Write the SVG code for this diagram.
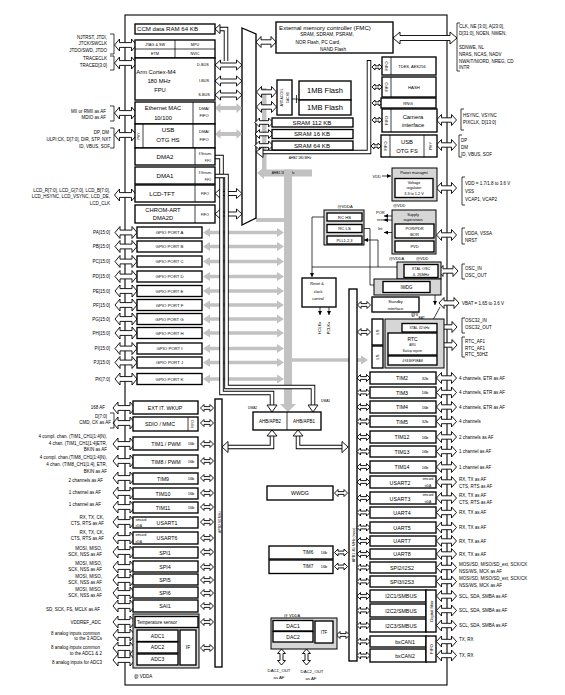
<svg xmlns="http://www.w3.org/2000/svg" width="565" height="695" viewBox="0 0 565 695">
<defs>
<style>
text{font-family:"Liberation Sans",Arial,Helvetica,sans-serif;fill:#000}
.c{text-anchor:middle}
.e{text-anchor:end}
.bx{fill:#fff;stroke:#000;stroke-width:1.35}
.gb{fill:#d6d6d6;stroke:#000;stroke-width:1}
.ln{fill:none;stroke:#000;stroke-width:0.75}
.ar{fill:#fff;stroke:#000;stroke-width:0.9}
.ga{fill:#c2c2c2;stroke:none}
.hk{fill:none;stroke:#000;stroke-width:4.5}
.hw{fill:none;stroke:#fff;stroke-width:2.7}
.f28{font-size:2.8px}.f33{font-size:3.3px}.f35{font-size:3.5px}.f38{font-size:3.8px}.f4{font-size:4px}.f43{font-size:4.3px}.f45{font-size:4.5px}.f47{font-size:4.7px}.f5{font-size:5px}.f53{font-size:5.3px}.f58{font-size:5.8px}.f6{font-size:6.1px}.f75{font-size:7.5px}
</style>
<marker id="m" viewBox="0 0 6 6" markerWidth="4" markerHeight="4" refX="6" refY="3" orient="auto" markerUnits="userSpaceOnUse"><path d="M0,0 L6,3 L0,6Z" fill="#000"/></marker>
<path id="a22" class="ar" d="M-11,0 L-6,-6 L-6,-2.4 L6,-2.4 L6,-6 L11,0 L6,6 L6,2.4 L-6,2.4 L-6,6Z"/>
<path id="a20" class="ar" d="M-10,0 L-5,-5.5 L-5,-2.2 L5,-2.2 L5,-5.5 L10,0 L5,5.5 L5,2.2 L-5,2.2 L-5,5.5Z"/>
<path id="a27" class="ar" d="M-13.5,0 L-8,-5 L-8,-2 L8,-2 L8,-5 L13.5,0 L8,5 L8,2 L-8,2 L-8,5Z"/>
<path id="a18" class="ar" d="M-9,0 L-4.5,-4.5 L-4.5,-1.8 L4.5,-1.8 L4.5,-4.5 L9,0 L4.5,4.5 L4.5,1.8 L-4.5,1.8 L-4.5,4.5Z"/>
<path id="a13" class="ar" d="M-6.5,0 L-3,-3.5 L-3,-1.4 L3,-1.4 L3,-3.5 L6.5,0 L3,3.5 L3,1.4 L-3,1.4 L-3,3.5Z"/>
<path id="a10" class="ar" d="M-5,0 L-2,-3 L-2,-1.2 L2,-1.2 L2,-3 L5,0 L2,3 L2,1.2 L-2,1.2 L-2,3Z"/>
<path id="v16" class="ar" d="M0,-8 L-4,-3.5 L-1.5,-3.5 L-1.5,3.5 L-4,3.5 L0,8 L4,3.5 L1.5,3.5 L1.5,-3.5 L4,-3.5Z"/>
<path id="g81" class="ga" d="M0,0 L7,-4.5 L7,-1.8 L74,-1.8 L74,-4.5 L81,0 L74,4.5 L74,1.8 L7,1.8 L7,4.5Z"/>
<path id="g27" class="ga" d="M-13.5,0 L-8,-5 L-8,-2 L8,-2 L8,-5 L13.5,0 L8,5 L8,2 L-8,2 L-8,5Z"/>
</defs>
<rect width="565" height="695" fill="#fff"/>

<!-- frame -->
<rect id="frame" x="125" y="15" width="322" height="670" fill="none" stroke="#000" stroke-width="1.1"/>

<!-- gray AHB1 buses -->
<g id="ahb1-bus">
<rect class="ga" x="262" y="88" width="4.5" height="82"/>
<rect class="ga" x="256" y="218" width="30" height="4"/>
<path class="ga" d="M257,173 L264,167 L264,169.5 L312,169.5 L312,176.5 L264,176.5 L264,179Z"/>
<text class="c f33" x="283" y="174.3">AHB1 180 MHz</text>
<rect class="ga" x="284" y="169.5" width="8" height="235"/>
<path class="ga" d="M280,404 L296,404 L288,412Z"/>
<path class="ga" d="M292,358.2 H361 V355.5 L368,360 L361,364.5 V361.8 H292Z"/>
</g>

<!-- buses (nodes) -->
<g id="bus-matrix"><polygon points="242,28 256,34 256,218 242,225" fill="#fff" stroke="#000" stroke-width="1.35"/></g>
<g id="apb2-bus"><rect class="bx" x="215" y="399" width="7" height="268"/><text class="c f35" transform="translate(219.5,522) rotate(-90)" y="1.2">APB2 90 MHz</text></g>
<g id="apb1-bus"><rect class="bx" x="349" y="289" width="8" height="372"/><text class="c f38" transform="translate(354,545) rotate(-90)" y="1.3">APB1 45 MHz (max)</text></g>

<g id="connectors">
<use href="#g81" x="203" y="232.5"/><use href="#g81" x="203" y="246.5"/><use href="#g81" x="203" y="261.5"/><use href="#g81" x="203" y="276.5"/><use href="#g81" x="203" y="291"/><use href="#g81" x="203" y="305"/><use href="#g81" x="203" y="319"/><use href="#g81" x="203" y="333"/><use href="#g81" x="203" y="348.5"/><use href="#g81" x="203" y="362.5"/><use href="#g81" x="203" y="379"/>
<use href="#g27" x="228.5" y="108"/><use href="#g27" x="228.5" y="134"/>
<use href="#a27" x="228.5" y="65"/><use href="#a27" x="228.5" y="81"/><use href="#a27" x="228.5" y="95"/>
<use href="#a27" x="228.5" y="193.5"/><use href="#a27" x="228.5" y="214"/>
<path class="hk" d="M219,29 H226 V61"/><path class="hw" d="M219,29 H226 V62"/>
<polygon class="ar" points="215,29 220,24.5 220,33.5"/>
<path class="hk" d="M215,157 H221.5 V393 H272 V406"/><path class="hw" d="M215,157 H221.5 V393 H272 V406"/>
<path class="hk" d="M215,176 H226.5 V387 H313 V406"/><path class="hw" d="M215,176 H226.5 V387 H313 V406"/>
<polygon class="ar" points="267,405 277,405 272,412"/><polygon class="ar" points="308,405 318,405 313,412"/>
<path class="hk" d="M272,435 V447 H228"/><path class="hw" d="M272,435 V447 H228"/>
<polygon class="ar" points="267,436 277,436 272,430"/><polygon class="ar" points="222,447 228,441.5 228,452.5"/>
<path class="hk" d="M298,435 V447 H342"/><path class="hw" d="M298,435 V447 H342"/>
<polygon class="ar" points="293,436 303,436 298,430"/><polygon class="ar" points="348,447 342,441.5 342,452.5"/>
<path class="hk" d="M262,152 H369 V60" stroke-width="5"/><path class="hw" d="M262,152 H369 V61" stroke-width="3"/>
<polygon class="ar" points="256,152 263,146.5 263,157.5"/>
<text class="c f33" x="300" y="158.8">AHB2 180 MHz</text>
<use href="#a10" x="377" y="67"/><use href="#a10" x="377" y="87"/><use href="#a10" x="377" y="103"/><use href="#a10" x="377" y="120"/><use href="#a10" x="376" y="146"/>
<use href="#a20" x="266" y="42"/>
<use href="#a20" x="266.5" y="92"/><use href="#a20" x="266.5" y="107"/>
<use href="#a18" x="264" y="122.5"/><use href="#a18" x="264" y="134"/><use href="#a18" x="264" y="145.5"/>
<path class="ln" d="M292,99 H298 M296.5,95 V103" stroke-width="1"/>
<path class="ar" d="M393,38 L400,32 L400,35.5 L450,35.5 L450,32 L457,38 L450,44 L450,40.5 L400,40.5 L400,44Z"/>
<use href="#a22" x="125.5" y="45"/><use href="#a22" x="125.5" y="63"/><use href="#a22" x="125.5" y="113"/><use href="#a22" x="125.5" y="135"/><use href="#a22" x="125.5" y="195"/>
<use href="#a22" x="126" y="232.5"/><use href="#a22" x="126" y="246.5"/><use href="#a22" x="126" y="261.5"/><use href="#a22" x="126" y="276.5"/><use href="#a22" x="126" y="291"/><use href="#a22" x="126" y="305"/><use href="#a22" x="126" y="319"/><use href="#a22" x="126" y="333"/><use href="#a22" x="126" y="348.5"/><use href="#a22" x="126" y="362.5"/><use href="#a22" x="126" y="379"/>
<use href="#a22" x="124" y="408"/><use href="#a22" x="124" y="423"/><use href="#a22" x="124" y="444"/><use href="#a22" x="124" y="461"/><use href="#a22" x="124" y="478"/><use href="#a22" x="124" y="493"/><use href="#a22" x="124" y="507"/><use href="#a22" x="124" y="522"/><use href="#a22" x="124" y="538"/><use href="#a22" x="124" y="552"/><use href="#a22" x="124" y="567"/><use href="#a22" x="124" y="580"/><use href="#a22" x="124" y="593"/><use href="#a22" x="124" y="606"/><use href="#a22" x="124" y="622"/><use href="#a22" x="124" y="635"/><use href="#a22" x="124" y="648"/><use href="#a22" x="124" y="660"/>
<use href="#a13" x="207" y="408"/><use href="#a13" x="207" y="423"/><use href="#a13" x="207" y="444"/><use href="#a13" x="207" y="461"/><use href="#a13" x="207" y="478"/><use href="#a13" x="207" y="493"/><use href="#a13" x="207" y="507"/><use href="#a13" x="207" y="522"/><use href="#a13" x="207" y="538"/><use href="#a13" x="207" y="552"/><use href="#a13" x="207" y="567"/><use href="#a13" x="207" y="580"/><use href="#a13" x="207" y="593"/><use href="#a13" x="207" y="606"/><use href="#a13" x="207" y="622"/><use href="#a13" x="207" y="648"/>
<use href="#a13" x="364" y="305"/><use href="#a13" x="364" y="332"/>
<use href="#a13" x="363.5" y="378"/><use href="#a13" x="363.5" y="392.5"/><use href="#a13" x="363.5" y="407"/><use href="#a13" x="363.5" y="421.5"/><use href="#a13" x="363.5" y="437"/><use href="#a13" x="363.5" y="451.5"/><use href="#a13" x="363.5" y="467"/><use href="#a13" x="363.5" y="482"/><use href="#a13" x="363.5" y="498"/><use href="#a13" x="363.5" y="512.5"/><use href="#a13" x="363.5" y="527.5"/><use href="#a13" x="363.5" y="541"/><use href="#a13" x="363.5" y="554"/><use href="#a13" x="363.5" y="567.5"/><use href="#a13" x="363.5" y="581.5"/><use href="#a13" x="363.5" y="596"/><use href="#a13" x="363.5" y="610.5"/><use href="#a13" x="363.5" y="625.5"/><use href="#a13" x="363.5" y="641.5"/><use href="#a13" x="363.5" y="655.5"/>
<use href="#a13" x="341" y="493"/><use href="#a13" x="341" y="552.5"/><use href="#a13" x="341" y="566.5"/><use href="#a13" x="343" y="635"/>
<use href="#v16" x="281.5" y="657"/><use href="#v16" x="306.5" y="657"/>
<use href="#a20" x="446.5" y="120"/><use href="#a20" x="446.5" y="145"/><use href="#a20" x="446.5" y="188"/><use href="#a20" x="446.5" y="235"/><use href="#a20" x="448" y="271"/><use href="#a20" x="449" y="303"/><use href="#a20" x="447" y="327"/><use href="#a20" x="447" y="345"/>
<use href="#a20" x="446.5" y="378"/><use href="#a20" x="446.5" y="392.5"/><use href="#a20" x="446.5" y="407"/><use href="#a20" x="446.5" y="421.5"/><use href="#a20" x="446.5" y="437"/><use href="#a20" x="446.5" y="451.5"/><use href="#a20" x="446.5" y="467"/><use href="#a20" x="446.5" y="482"/><use href="#a20" x="446.5" y="498"/><use href="#a20" x="446.5" y="512.5"/><use href="#a20" x="446.5" y="527.5"/><use href="#a20" x="446.5" y="541"/><use href="#a20" x="446.5" y="554"/><use href="#a20" x="446.5" y="567.5"/><use href="#a20" x="446.5" y="581.5"/><use href="#a20" x="446.5" y="596"/><use href="#a20" x="446.5" y="610.5"/><use href="#a20" x="446.5" y="625.5"/><use href="#a20" x="446.5" y="641.5"/><use href="#a20" x="446.5" y="655.5"/>
<path class="ln" d="M327,217 H312 V277" marker-end="url(#m)"/>
<path class="ln" d="M312,267 H397"/>
<path class="ln" d="M362,228.5 H370 V285 H382" marker-end="url(#m)"/>
<path class="ln" d="M378,267 V240 H364" marker-end="url(#m)"/>
<path class="ln" d="M320,307 V315" marker-end="url(#m)"/><path class="ln" d="M329,307 V315" marker-end="url(#m)"/>
<path class="ln" d="M382,176 H391" marker-end="url(#m)"/>
<path class="ln" d="M392,216 H384" marker-end="url(#m)"/><path class="ln" d="M392,220 H384" marker-end="url(#m)"/><path class="ln" d="M392,232.5 H384" marker-end="url(#m)"/>
<path class="ln" d="M435,295 V305" marker-end="url(#m)"/>
<path class="ln" d="M440,307 L433,320" stroke-width="0.9"/>
<path class="ln" d="M110,34 H114 V54 H110 M110,56 H114 V70 H110 M110,106 H114 V121 H110 M110,128 H114 V148 H110 M110,413 H114 V428 H110" stroke-width="1"/>
<path class="ln" d="M460,23 H457 V71 H460 M464,109 H461 V130 H464 M462,135 H459 V157 H462 M465,177 H462 V205 H465 M465,228 H462 V244 H465 M465,264 H462 V279 H465 M465,318 H462 V333 H465 M465,337 H462 V357 H465" stroke-width="1"/>
</g>

<g id="ccm"><rect class="bx" x="135" y="24" width="80" height="10"/><text class="f6" x="137" y="31.3">CCM data RAM 64 KB</text></g>
<g id="jtag"><rect class="bx" x="135" y="40" width="80" height="18"/><path class="ln" d="M175,40 V58 M135,49 H215"/>
<text class="c f38" x="155" y="46">JTAG &amp; SW</text><text class="c f38" x="195" y="46">MPU</text><text class="c f38" x="155" y="55">ETM</text><text class="c f38" x="195" y="55">NVIC</text></g>
<g id="cortex"><rect class="bx" x="135" y="58" width="80" height="42"/>
<text class="c f58" x="156" y="74">Arm Cortex-M4</text><text class="c f58" x="159" y="83">180 MHz</text><text class="c f58" x="160" y="92">FPU</text>
<text class="c f38" x="203" y="66.3">D-BUS</text><text class="c f38" x="204" y="82.3">I-BUS</text><text class="c f38" x="204" y="96.3">S-BUS</text></g>
<g id="eth"><rect class="bx" x="135" y="102" width="80" height="22"/><path class="ln" d="M193,102 V124"/>
<text class="c f58" x="163" y="110">Ethernet MAC</text><text class="c f58" x="163" y="119.5">10/100</text><text class="c f4" x="204" y="110">DMA/</text><text class="c f4" x="204" y="117">FIFO</text></g>
<g id="usbhs"><rect class="bx" x="135" y="124" width="80" height="24"/><path class="ln" d="M143,124 V148 M193,124 V148"/>
<text class="c f35" transform="translate(139,136) rotate(-90)" y="1.2">PHY</text>
<text class="c f6" x="168" y="131.5">USB</text><text class="c f6" x="168" y="141.5">OTG HS</text><text class="c f4" x="204" y="133">DMA/</text><text class="c f4" x="204" y="141">FIFO</text></g>
<g id="dma2"><rect class="bx" x="135" y="148" width="80" height="17"/><path class="ln" d="M195,148 V165"/><text class="c f6" x="165" y="158.5">DMA2</text><text class="c f28" x="205" y="155">8 Streams</text><text class="c f28" x="208" y="161.5">FIFO</text></g>
<g id="dma1"><rect class="bx" x="135" y="167" width="80" height="17"/><path class="ln" d="M195,167 V184"/><text class="c f6" x="165" y="177.5">DMA1</text><text class="c f28" x="205" y="174">8 Streams</text><text class="c f28" x="208" y="180.5">FIFO</text></g>
<g id="lcd"><rect class="bx" x="135" y="185" width="80" height="17"/><path class="ln" d="M195,185 V202"/><text class="c f6" x="162" y="195.5">LCD-TFT</text><text class="c f35" x="205" y="195">FIFO</text></g>
<g id="chromart"><rect class="bx" x="135" y="205" width="80" height="18"/><path class="ln" d="M195,205 V223"/><text class="c f58" x="163" y="211.5">CHROM-ART</text><text class="c f58" x="163" y="220">DMA2D</text><text class="c f35" x="205" y="215.5">FIFO</text></g>

<g id="gpio" class="f43">
<rect class="bx" x="137" y="227" width="65" height="11"/><text class="c" x="169.5" y="234">GPIO PORT A</text>
<rect class="bx" x="137" y="241" width="65" height="11"/><text class="c" x="169.5" y="248">GPIO PORT B</text>
<rect class="bx" x="137" y="256" width="65" height="11"/><text class="c" x="169.5" y="263">GPIO PORT C</text>
<rect class="bx" x="137" y="271" width="65" height="11"/><text class="c" x="169.5" y="278">GPIO PORT D</text>
<rect class="bx" x="137" y="285.5" width="65" height="11"/><text class="c" x="169.5" y="292.5">GPIO PORT E</text>
<rect class="bx" x="137" y="299.5" width="65" height="11"/><text class="c" x="169.5" y="306.5">GPIO PORT F</text>
<rect class="bx" x="137" y="313.5" width="65" height="11"/><text class="c" x="169.5" y="320.5">GPIO PORT G</text>
<rect class="bx" x="137" y="327.5" width="65" height="11"/><text class="c" x="169.5" y="334.5">GPIO PORT H</text>
<rect class="bx" x="137" y="343" width="65" height="11"/><text class="c" x="169.5" y="350">GPIO PORT I</text>
<rect class="bx" x="137" y="357" width="65" height="11"/><text class="c" x="169.5" y="364">GPIO PORT J</text>
<rect class="bx" x="137" y="373.5" width="65" height="11"/><text class="c" x="169.5" y="380.5">GPIO PORT K</text>
</g>

<g id="apb2-periph" class="f53">
<rect class="bx" x="133" y="401" width="65" height="13"/><text class="c" x="165" y="409.8">EXT IT. WKUP</text>
<rect class="bx" x="133" y="417" width="65" height="14"/><path class="ln" d="M188,417 V431"/><text class="c" x="160" y="425.8">SDIO / MMC</text><text class="c f35" transform="translate(193,424) rotate(-90)" y="1.2">FIFO</text>
<rect class="bx" x="133" y="437" width="65" height="13"/><text class="c" x="166" y="445.8">TIM1 / PWM</text><text class="c f4" x="191" y="445.4">16b</text>
<rect class="bx" x="133" y="455" width="65" height="13"/><text class="c" x="166" y="463.8">TIM8 / PWM</text><text class="c f4" x="191" y="463.4">16b</text>
<rect class="bx" x="133" y="473" width="65" height="11"/><text class="c" x="163" y="480.8">TIM9</text><text class="c f4" x="191" y="480.4">16b</text>
<rect class="bx" x="133" y="488" width="65" height="11"/><text class="c" x="163" y="495.8">TIM10</text><text class="c f4" x="191" y="495.4">16b</text>
<rect class="bx" x="133" y="502" width="65" height="11"/><text class="c" x="163" y="509.8">TIM11</text><text class="c f4" x="191" y="509.4">16b</text>
<rect class="bx" x="133" y="517" width="65" height="11"/><text class="f33" x="135.5" y="520.8">smcard</text><text class="f33" x="135.5" y="526.5">irDA</text><text class="c" x="167" y="524.5">USART1</text>
<rect class="bx" x="133" y="532" width="65" height="12"/><text class="f33" x="135.5" y="536">smcard</text><text class="f33" x="135.5" y="542.5">irDA</text><text class="c" x="167" y="540">USART6</text>
<rect class="bx" x="133" y="547" width="65" height="11"/><text class="c" x="165" y="554.5">SPI1</text>
<rect class="bx" x="133" y="561" width="65" height="11"/><text class="c" x="165" y="568.5">SPI4</text>
<rect class="bx" x="133" y="574" width="65" height="11"/><text class="c" x="165" y="581.5">SPI5</text>
<rect class="bx" x="133" y="587" width="65" height="11"/><text class="c" x="165" y="594.5">SPI6</text>
<rect class="bx" x="133" y="600" width="65" height="12"/><text class="c" x="165" y="608">SAI1</text>
</g>
<g id="adc">
<rect class="gb" x="133" y="614" width="66" height="54"/>
<rect class="bx" x="135" y="616.5" width="63" height="11"/><text class="f45" x="137" y="623.8">Temperature sensor</text>
<rect class="bx" x="137" y="630" width="41" height="11.5"/><text class="c f5" x="157.5" y="637.5">ADC1</text>
<rect class="bx" x="137" y="642" width="41" height="11"/><text class="c f5" x="157.5" y="649.3">ADC2</text>
<rect class="bx" x="137" y="654" width="41" height="11"/><text class="c f5" x="157.5" y="661.3">ADC3</text>
<rect class="bx" x="180" y="630" width="16" height="35"/><text class="c f5" x="188" y="649">IF</text>
<text class="f45" x="134" y="677.5">@ VDDA</text>
</g>

<g id="labels-left" class="f45">
<text class="e" x="107" y="39">NJTRST, JTDI,</text><text class="e" x="107" y="45">JTCK/SWCLK</text><text class="e" x="107" y="52">JTDO/SWD, JTDO</text>
<text class="e" x="107" y="60">TRACECLK</text><text class="e" x="107" y="67">TRACED[3:0]</text>
<text class="e" x="106" y="112.5">MII or RMII as AF</text><text class="e" x="106" y="119">MDIO as AF</text>
<text class="e" x="109" y="133.5">DP, DM</text><text class="e" x="111" y="140.5">ULPI:CK, D[7:0], DIR, STP, NXT</text><text class="e" x="110" y="147.5">ID, VBUS, SOF</text>
<text class="e" x="110" y="191.5">LCD_R[7:0], LCD_G[7:0], LCD_B[7:0],</text><text class="e" x="110" y="197.5">LCD_HSYNC, LCD_VSYNC, LCD_DE,</text><text class="e" x="110" y="204.5">LCD_CLK</text>
<text class="e" x="110" y="234">PA[15:0]</text><text class="e" x="110" y="248">PB[15:0]</text><text class="e" x="110" y="263">PC[15:0]</text><text class="e" x="110" y="278">PD[15:0]</text><text class="e" x="110" y="292.5">PE[15:0]</text><text class="e" x="110" y="306.5">PF[15:0]</text><text class="e" x="110" y="320.5">PG[15:0]</text><text class="e" x="110" y="334.5">PH[15:0]</text><text class="e" x="110" y="350">PI[15:0]</text><text class="e" x="110" y="364">PJ[15:0]</text><text class="e" x="110" y="380.5">PK[7:0]</text>
<text class="e" x="105" y="408.5">168 AF</text>
<text class="e" x="107" y="417.5">D[7:0]</text><text class="e" x="111" y="424">CMD, CK as AF</text>
<text class="e" x="107" y="437.5">4 compl. chan. (TIM1_CH1[1:4]N),</text><text class="e" x="107" y="444.5">4 chan. (TIM1_CH1[1:4]ETR,</text><text class="e" x="107" y="451">BKIN as AF</text>
<text class="e" x="107" y="459">4 compl. chan.(TIM8_CH1[1:4]N),</text><text class="e" x="107" y="466">4 chan. (TIM8_CH1[1:4], ETR,</text><text class="e" x="107" y="472.5">BKIN as AF</text>
<text class="e" x="103" y="481.5">2 channels as AF</text>
<text class="e" x="101" y="493.5">1 channel as AF</text>
<text class="e" x="101" y="506">1 channel as AF</text>
<text class="e" x="104" y="518.5">RX, TX, CK,</text><text class="e" x="104" y="525">CTS, RTS as AF</text>
<text class="e" x="104" y="534">RX, TX, CK,</text><text class="e" x="104" y="540">CTS, RTS as AF</text>
<text class="e" x="102" y="549.5">MOSI, MISO,</text><text class="e" x="102" y="555.5">SCK, NSS as AF</text>
<text class="e" x="102" y="564.5">MOSI, MISO,</text><text class="e" x="102" y="571">SCK, NSS as AF</text>
<text class="e" x="102" y="577.5">MOSI, MISO,</text><text class="e" x="102" y="583.5">SCK, NSS as AF</text>
<text class="e" x="102" y="590.5">MOSI, MISO,</text><text class="e" x="102" y="597">SCK, NSS as AF</text>
<text class="e" x="100" y="610.5">SD, SCK, FS, MCLK as AF</text>
<text class="e" x="101" y="623.5">VDDREF_ADC</text>
<text class="e" x="100" y="634.5">8 analog inputs common</text><text class="e" x="102" y="640">to the 3 ADCs</text>
<text class="e" x="100" y="648.5">8 analog inputs common</text><text class="e" x="102" y="654.5">to the ADC1 &amp; 2</text>
<text class="e" x="102" y="663.5">8 analog inputs for ADC3</text>
</g>

<g id="fmc"><rect class="bx" x="276" y="22" width="117" height="31"/>
<text class="c f6" x="325" y="29.5">External memory controller (FMC)</text>
<text class="c f47" x="327" y="36">SRAM, SDRAM, PSRAM,</text><text class="c f47" x="318" y="43.5">NOR Flash, PC Card,</text><text class="c f47" x="333" y="51">NAND Flash</text></g>
<g id="art"><rect class="bx" x="277" y="80" width="15" height="35"/>
<text class="c f33" transform="translate(282,97.5) rotate(-90)" y="1.1">ART ACCEL</text><text class="c f33" transform="translate(287.5,97.5) rotate(-90)" y="1.1">CACHE</text></g>
<g id="flash1"><rect class="bx" x="299" y="81" width="52" height="19"/><text class="c f75" x="325" y="93">1MB Flash</text></g>
<g id="flash2"><rect class="bx" x="299" y="100" width="52" height="15"/><text class="c f75" x="325" y="110">1MB Flash</text></g>
<g id="sram112"><rect class="bx" x="272" y="118" width="81" height="9"/><text class="c f6" x="312" y="124.6">SRAM 112 KB</text></g>
<g id="sram16"><rect class="bx" x="272" y="129.5" width="81" height="9"/><text class="c f6" x="312" y="136.1">SRAM 16 KB</text></g>
<g id="sram64"><rect class="bx" x="272" y="141" width="81" height="9"/><text class="c f6" x="312" y="147.6">SRAM 64 KB</text></g>

<g id="cryp"><rect class="bx" x="382" y="57" width="54" height="18"/><path class="ln" d="M391,57 V75"/><text class="c f4" transform="translate(386.5,66) rotate(-90)" y="1.4">FIFO</text><text class="c f4" x="412" y="67.5">TDES, AES256</text></g>
<g id="hash"><rect class="bx" x="382" y="77" width="54" height="20"/><path class="ln" d="M391,77 V97"/><text class="c f4" transform="translate(386.5,87) rotate(-90)" y="1.4">FIFO</text><text class="c f43" x="414" y="88.5">HASH</text></g>
<g id="rng"><rect class="bx" x="381" y="98" width="55" height="10"/><text class="c f43" x="408" y="104.5">RNG</text></g>
<g id="camera"><rect class="bx" x="382" y="109" width="55" height="23"/><path class="ln" d="M391,109 V132"/><text class="c f4" transform="translate(386.5,120.5) rotate(-90)" y="1.4">FIFO</text><text class="c f58" x="413" y="118.5">Camera</text><text class="c f58" x="413" y="127">interface</text></g>
<g id="usbfs"><rect class="bx" x="381" y="135" width="56" height="22"/><path class="ln" d="M390,135 V157 M424,135 V157"/><text class="c f4" transform="translate(385.5,146) rotate(-90)" y="1.4">FIFO</text><text class="c f4" transform="translate(430.5,146) rotate(-90)" y="1.4">PHY</text><text class="c f58" x="407" y="144">USB</text><text class="c f58" x="407" y="153">OTG FS</text></g>

<g id="rc"><text class="c f4" x="345" y="207.5">@VDDA</text><rect class="gb" x="324" y="210" width="40" height="35" fill="#e2e2e2"/>
<rect class="bx" x="327" y="213" width="35" height="8"/><text class="c f43" x="344.5" y="218.8">RC HS</text>
<rect class="bx" x="327" y="224.5" width="35" height="8"/><text class="c f43" x="344.5" y="230.3">RC LS</text>
<rect class="bx" x="327" y="236" width="35" height="8"/><text class="c f4" x="344.5" y="241.6">PLL1,2,3</text></g>
<g id="rcc"><rect class="bx" x="302" y="278" width="34" height="29"/><text class="c f38" x="317" y="285">Reset &amp;</text><text class="c f38" x="318" y="292.5">clock</text><text class="c f38" x="318" y="300">control</text>
<text class="c f4" transform="translate(320,328) rotate(-90)" y="1.4">HCLKx</text><text class="c f4" transform="translate(329,328) rotate(-90)" y="1.4">PCLKx</text></g>
<g id="power"><text class="e f4" x="381" y="178">VDD</text><rect class="gb" x="392" y="168" width="45" height="33"/><text class="c f38" x="414" y="174">Power managmt</text>
<rect class="bx" x="395" y="178.5" width="38" height="19"/><text class="c f38" x="414" y="184">Voltage</text><text class="c f38" x="414" y="189">regulator</text><text class="c f38" x="414" y="194.5">3.3 to 1.2 V</text>
<text class="f4" x="393" y="206.5">@VDD</text></g>
<g id="supply"><rect class="gb" x="392" y="210" width="44" height="44"/><text class="c f38" x="413" y="215.5">Supply</text><text class="c f38" x="413" y="221">supervision</text>
<rect class="bx" x="395" y="224" width="39" height="14"/><text class="c f4" x="414.5" y="229.5">POR/PDR</text><text class="c f4" x="414.5" y="236">BOR</text>
<rect class="bx" x="395" y="241" width="39" height="11"/><text class="c f4" x="414.5" y="248">PVD</text>
<text class="f4" x="376" y="213.5">POR</text><text class="f4" x="377" y="220.5">reset</text><text class="f4" x="378" y="229.5">Int</text></g>
<g id="xtal"><text class="f4" x="389" y="259.5">@VDDA</text><text class="f4" x="416" y="259.5">@VDD</text>
<rect class="gb" x="397" y="262" width="44" height="17"/><rect class="bx" x="404" y="264.5" width="34" height="13"/><text class="c f38" x="421" y="269.8">XTAL OSC</text><text class="c f38" x="421" y="275.8">4- 26MHz</text></g>
<g id="iwdg"><rect class="gb" x="374" y="279" width="67" height="16"/><rect class="bx" x="383" y="281.5" width="47" height="11"/><text class="c f45" x="406.5" y="288.6">IWDG</text></g>
<g id="standby"><rect class="bx" x="372" y="297" width="47" height="15"/><text class="c f4" x="395.5" y="303">Standby</text><text class="c f4" x="395.5" y="309.5">interface</text></g>
<g id="ls"><rect class="bx" x="372" y="319" width="11" height="26"/><text class="c f4" transform="translate(377.5,332) rotate(-90)" y="1.4">LS</text>
<rect class="bx" x="372" y="346" width="11" height="22"/><text class="c f4" transform="translate(377.5,357) rotate(-90)" y="1.4">LS</text></g>
<g id="backup"><text class="f45" x="411" y="315.5">@V</text><text class="f33" x="418.5" y="318.5">BAT</text>
<rect class="gb" x="385" y="319" width="59" height="49"/>
<rect class="bx" x="402" y="323.5" width="35" height="8.5"/><text class="c f35" x="419.5" y="329.2">XTAL 32 kHz</text>
<rect class="bx" x="388" y="333" width="49" height="22"/><text class="c f5" x="412.5" y="340.5">RTC</text><text class="c f28" x="412.5" y="346">AWU</text><text class="c f28" x="412.5" y="351.5">Backup register</text>
<rect class="bx" x="388" y="356" width="49" height="9"/><text class="c f28" x="412.5" y="361.8">4 KB BKPSRAM</text></g>

<g id="ahbapb"><rect class="bx" x="253" y="412" width="68" height="18"/><path class="ln" d="M287,412 V430" stroke-width="1.1"/>
<text class="c f45" x="270" y="422.6">AHB/APB2</text><text class="c f45" x="304" y="422.6">AHB/APB1</text>
<text class="f33" x="248" y="408.5">DMA2</text><text class="f33" x="321" y="402">DMA1</text></g>
<g id="wwdg"><rect class="bx" x="267" y="486" width="66" height="14"/><text class="c f53" x="300" y="494.8">WWDG</text></g>
<g id="tim6"><rect class="bx" x="269" y="546" width="64" height="13"/><text class="c f47" x="308" y="554.2">TIM6</text><text class="c f38" x="324" y="554">16b</text></g>
<g id="tim7"><rect class="bx" x="269" y="560" width="64" height="13.5"/><text class="c f47" x="308" y="568.4">TIM7</text><text class="c f38" x="324" y="568.2">16b</text></g>
<g id="dac"><text class="c f4" x="292" y="616.5">@ VDDA</text><rect class="gb" x="271" y="618" width="66" height="31"/>
<rect class="bx" x="273" y="620.5" width="40" height="10.5"/><text class="c f5" x="293" y="627.6">DAC1</text>
<rect class="bx" x="273" y="631.5" width="40" height="10.5"/><text class="c f5" x="293" y="638.6">DAC2</text>
<rect class="bx" x="315" y="621" width="18" height="22"/><text class="c f45" x="324" y="633.5">ITF</text>
<text class="c f43" x="279" y="672">DAC1_OUT</text><text class="c f43" x="279" y="679">as AF</text><text class="c f43" x="312" y="672.5">DAC2_OUT</text><text class="c f43" x="311" y="679.5">as AF</text></g>

<g id="apb1-periph" class="f53">
<rect class="bx" x="370" y="372" width="66" height="12"/><text class="c" x="402" y="380">TIM2</text><text class="c f4" x="425" y="379.8">32b</text>
<rect class="bx" x="370" y="387" width="66" height="11"/><text class="c" x="402" y="394.5">TIM3</text><text class="c f4" x="425" y="394.3">16b</text>
<rect class="bx" x="370" y="401" width="66" height="12"/><text class="c" x="402" y="409">TIM4</text><text class="c f4" x="425" y="408.8">16b</text>
<rect class="bx" x="370" y="416" width="66" height="11"/><text class="c" x="402" y="423.5">TIM5</text><text class="c f4" x="425" y="423.3">32b</text>
<rect class="bx" x="370" y="431" width="66" height="12"/><text class="c" x="402" y="439">TIM12</text><text class="c f4" x="425" y="438.8">16b</text>
<rect class="bx" x="370" y="446" width="66" height="11"/><text class="c" x="402" y="453.5">TIM13</text><text class="c f4" x="425" y="453.3">16b</text>
<rect class="bx" x="370" y="461" width="66" height="12"/><text class="c" x="402" y="469">TIM14</text><text class="c f4" x="425" y="468.8">16b</text>
<rect class="bx" x="370" y="476" width="66" height="12"/><text class="c" x="400" y="485">USART2</text><text class="c f33" x="428" y="479.8">smcard</text><text class="c f33" x="428" y="486.5">irDA</text>
<rect class="bx" x="370" y="492" width="66" height="12"/><text class="c" x="400" y="501">USART3</text><text class="c f33" x="428" y="495.8">smcard</text><text class="c f33" x="428" y="502.5">irDA</text>
<rect class="bx" x="370" y="507" width="66" height="11"/><text class="c" x="402" y="514.5">UART4</text>
<rect class="bx" x="370" y="522" width="66" height="11"/><text class="c" x="402" y="529.5">UART5</text>
<rect class="bx" x="370" y="536" width="66" height="10"/><text class="c" x="402" y="543">UART7</text>
<rect class="bx" x="370" y="549" width="66" height="10"/><text class="c" x="402" y="556">UART8</text>
<rect class="bx" x="370" y="562" width="66" height="11"/><text class="c" x="402" y="569.5">SPI2/I2S2</text>
<rect class="bx" x="370" y="576" width="66" height="11"/><text class="c" x="402" y="583.5">SPI3/I2S3</text>
<rect class="bx" x="370" y="590" width="56" height="12"/><text class="c" x="401" y="598">I2C1/SMBUS</text>
<rect class="bx" x="370" y="604" width="56" height="13"/><text class="c" x="401" y="612.5">I2C2/SMBUS</text>
<rect class="bx" x="370" y="619" width="56" height="13"/><text class="c" x="401" y="627.5">I2C3/SMBUS</text>
<rect class="bx" x="426" y="590" width="10" height="42"/><text class="c f43" transform="translate(431,611) rotate(-90)" y="1.5">Digital filter</text>
<rect class="bx" x="370" y="636" width="56" height="11"/><text class="c" x="405" y="643.5">bxCAN1</text>
<rect class="bx" x="370" y="649" width="56" height="13"/><text class="c" x="405" y="657.5">bxCAN2</text>
<rect class="bx" x="426" y="636" width="10" height="26"/><text class="c f43" transform="translate(431,649) rotate(-90)" y="1.5">FIFO</text>
</g>

<g id="labels-right" class="f45">
<text x="459" y="28">CLK, NE [3:0], A[23:0],</text><text x="459" y="35">D[31:0], NOEN, NWEN,</text><text x="459" y="49">SDNWE, NL</text><text x="459" y="56">NRAS, NCAS, NADV</text><text x="459" y="62.5">NWAIT/NIORD, NREG, CD</text><text x="459" y="69">INTR</text>
<text x="463" y="116.5">HSYNC, VSYNC</text><text x="463" y="123.5">PIXCLK, D[13:0]</text>
<text x="461" y="141.5">DP</text><text x="461" y="148.5">DM</text><text x="461" y="155.5">ID, VBUS, SOF</text>
<text x="465" y="184.5">VDD = 1.7/1.8 to 3.6 V</text><text x="465" y="192.5">VSS</text><text x="465" y="200.5">VCAP1, VCAP2</text>
<text x="465" y="234.5">VDDA, VSSA</text><text x="465" y="241.5">NRST</text>
<text x="465" y="269.5">OSC_IN</text><text x="465" y="276.5">OSC_OUT</text>
<text x="462" y="304.5">VBAT = 1.65 to 3.6 V</text>
<text x="465" y="322">OSC32_IN</text><text x="465" y="329">OSC32_OUT</text>
<text x="465" y="342.5">RTC_AF1</text><text x="465" y="349.5">RTC_AF1</text><text x="465" y="355.5">RTC_50HZ</text>
<text x="459" y="379.5">4 channels, ETR as AF</text><text x="459" y="394">4 channels, ETR as AF</text><text x="459" y="408.5">4 channels, ETR as AF</text><text x="459" y="423">4 channels</text>
<text x="459" y="438.5">2 channels as AF</text><text x="459" y="453">1 channel as AF</text><text x="459" y="468.5">1 channel as AF</text>
<text x="459" y="480.5">RX, TX as AF</text><text x="459" y="487.5">CTS, RTS as AF</text>
<text x="459" y="496.5">RX, TX as AF</text><text x="459" y="503.5">CTS, RTS as AF</text>
<text x="459" y="514">RX, TX as AF</text><text x="459" y="529">RX, TX as AF</text><text x="459" y="542.5">RX, TX as AF</text><text x="459" y="555.5">RX, TX as AF</text>
<text x="459" y="566">MOSI/SD, MISO/SD_ext, SCK/CK</text><text x="459" y="572.5">NSS/WS, MCK as AF</text>
<text x="459" y="580">MOSI/SD, MISO/SD_ext, SCK/CK</text><text x="459" y="586.5">NSS/WS, MCK as AF</text>
<text x="459" y="597.5">SCL, SDA, SMBA as AF</text><text x="459" y="612">SCL, SDA, SMBA as AF</text><text x="459" y="627">SCL, SDA, SMBA as AF</text>
<text x="459" y="640.5">TX, RX</text><text x="459" y="656.5">TX, RX</text>
</g>
</svg>
